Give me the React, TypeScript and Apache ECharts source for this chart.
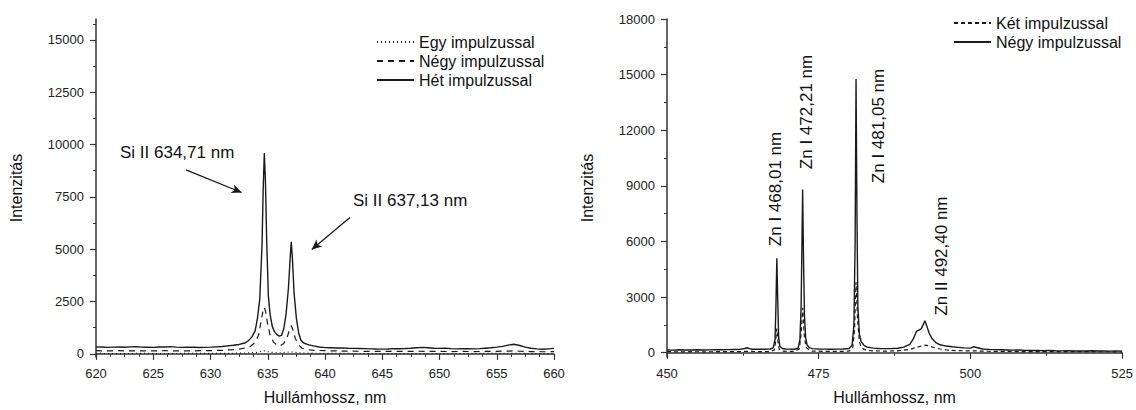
import React, { useEffect, useRef } from "react";
import * as echarts from "echarts";

// ---------- Left chart (Si II lines) ----------
const leftNames = ["Egy impulzussal", "Négy impulzussal", "Hét impulzussal"];
const leftYTicks = [0, 2500, 5000, 7500, 10000, 12500, 15000];
const leftYMinor = [1250, 3750, 6250, 8750, 11250, 13750, 15750];

const leftEgy: [number, number][] = [
  [620, 20], [622, 15], [624, 20], [626, 15], [628, 20], [630, 20], [632, 30], [633, 40],
  [634, 70], [634.7, 150], [635.3, 70], [636, 50], [637.05, 90], [637.7, 50], [639, 30],
  [641, 20], [645, 15], [650, 15], [655, 20], [656.5, 30], [658, 15], [660, 15],
];

const leftNegy: [number, number][] = [
  [620, 150], [621, 145], [622, 150], [623, 140], [624, 145], [625, 140], [626, 150],
  [627, 145], [628, 140], [629, 150], [630, 155], [631, 170], [632, 200], [632.5, 230],
  [633, 280], [633.5, 360], [633.9, 550], [634.2, 900], [634.4, 1500], [634.6, 2100],
  [634.7, 2220], [634.8, 2050], [635.0, 1400], [635.2, 900], [635.5, 560], [635.8, 420],
  [636.1, 390], [636.4, 500], [636.7, 800], [636.9, 1150], [637.05, 1340], [637.2, 1150],
  [637.4, 750], [637.7, 420], [638, 270], [638.5, 200], [639, 170], [640, 150], [641, 140],
  [642, 130], [643, 125], [644, 120], [645, 115], [646, 120], [647, 115], [648, 125],
  [649, 120], [650, 115], [651, 110], [652, 115], [653, 110], [654, 115], [655, 120],
  [656, 135], [656.5, 140], [657, 125], [658, 110], [659, 100], [660, 105],
];

const leftHet: [number, number][] = [
  [620, 320], [620.5, 330], [621, 310], [621.5, 320], [622, 330], [622.5, 315], [623, 335],
  [623.5, 340], [624, 320], [624.5, 315], [625, 310], [625.5, 325], [626, 330], [626.5, 345],
  [627, 320], [627.5, 310], [628, 320], [628.5, 315], [629, 305], [629.5, 310], [630, 320],
  [630.5, 335], [631, 350], [631.5, 380], [632, 410], [632.5, 450], [633, 520], [633.3, 620],
  [633.6, 800], [633.9, 1100], [634.1, 1700], [634.3, 2600], [634.5, 5200], [634.6, 7800],
  [634.7, 9600], [634.8, 8200], [634.9, 5600], [635.05, 2800], [635.2, 1900], [635.4, 1300],
  [635.6, 1050], [635.8, 920], [636.0, 850], [636.2, 880], [636.4, 1200], [636.6, 1900],
  [636.8, 3100], [636.95, 4500], [637.05, 5350], [637.15, 4600], [637.3, 2900], [637.5, 1700],
  [637.7, 1000], [637.9, 650], [638.2, 500], [638.6, 430], [639, 380], [639.5, 330],
  [640, 300], [640.5, 290], [641, 280], [641.5, 285], [642, 270], [642.5, 260], [643, 255],
  [643.5, 250], [644, 240], [644.5, 230], [645, 225], [645.5, 230], [646, 250], [646.5, 245],
  [647, 255], [647.5, 270], [648, 290], [648.5, 310], [649, 290], [649.5, 270], [650, 260],
  [650.5, 270], [651, 250], [651.5, 240], [652, 250], [652.5, 245], [653, 240], [653.5, 250],
  [654, 270], [654.5, 290], [655, 320], [655.5, 360], [656, 420], [656.5, 460], [657, 400],
  [657.5, 320], [658, 270], [658.5, 240], [659, 220], [659.5, 240], [660, 260],
];

const leftLabels = ["Si II 634,71 nm", "Si II 637,13 nm"];
const leftArrows: [[number, number], [number, number]][] = [
  [[627.86, 8790], [632.72, 7710]],
  [[642.18, 6510], [638.84, 4990]],
];

// ---------- Right chart (Zn lines) ----------
const rightNames = ["Két impulzussal", "Négy impulzussal"];
const rightYTicks = [0, 3000, 6000, 9000, 12000, 15000, 18000];
const rightYMinor = [1500, 4500, 7500, 10500, 13500, 16500];

const rightKet: [number, number][] = [
  [450, 60], [452, 50], [454, 55], [456, 50], [458, 55], [460, 60], [462, 55], [463.2, 80],
  [465, 60], [467, 65], [467.7, 150], [467.9, 600], [468.1, 1300], [468.3, 600], [468.5, 180],
  [469, 90], [470, 70], [471, 70], [471.8, 200], [472.1, 1000], [472.35, 2420], [472.6, 1000],
  [472.9, 300], [473.5, 120], [474, 90], [476, 75], [478, 70], [480, 85], [480.6, 250],
  [480.9, 1200], [481.15, 3800], [481.4, 1800], [481.7, 600], [482, 300], [482.5, 180],
  [483, 130], [484, 100], [486, 90], [488, 100], [490, 180], [491, 280], [492, 370],
  [492.5, 410], [493, 380], [494, 280], [495, 200], [496, 150], [498, 110], [500, 100],
  [501, 95], [503, 80], [505, 70], [508, 65], [510, 60], [515, 55], [520, 55], [525, 50],
];

const rightNegy: [number, number][] = [
  [450, 150], [451, 140], [452, 160], [453, 150], [454, 145], [455, 160], [456, 150],
  [457, 155], [458, 165], [459, 160], [460, 170], [461, 175], [462, 180], [462.8, 230],
  [463.2, 270], [463.6, 220], [464, 190], [465, 185], [466, 190], [467, 200], [467.5, 260],
  [467.8, 700], [467.95, 2500], [468.1, 5100], [468.25, 2800], [468.4, 800], [468.6, 350],
  [469, 230], [469.5, 200], [470, 195], [471, 190], [471.6, 240], [471.9, 700], [472.1, 2500],
  [472.25, 6200], [472.35, 8800], [472.5, 5000], [472.65, 2000], [472.85, 800], [473.1, 400],
  [473.5, 260], [474, 220], [475, 200], [476, 195], [477, 190], [478, 195], [479, 200],
  [480, 230], [480.5, 400], [480.8, 1500], [481.0, 6000], [481.15, 14770], [481.3, 7500],
  [481.45, 2500], [481.7, 1000], [482, 600], [482.5, 380], [483, 300], [484, 250], [485, 230],
  [486, 220], [487, 225], [488, 240], [489, 300], [490, 450], [490.6, 750], [491.1, 1150],
  [491.5, 1220], [491.9, 1300], [492.2, 1500], [492.5, 1720], [492.8, 1450], [493.2, 1050],
  [493.7, 750], [494.3, 550], [495, 430], [496, 360], [497, 320], [498, 290], [499, 260],
  [500, 250], [500.5, 320], [501, 280], [502, 200], [503, 180], [504, 170], [505, 160],
  [506, 150], [507, 140], [508, 150], [509, 130], [510, 120], [511, 125], [512, 110],
  [513, 130], [514, 110], [515, 100], [516, 110], [517, 95], [518, 100], [519, 90],
  [520, 105], [521, 90], [522, 95], [523, 85], [524, 90], [525, 85],
];

const rightLabels = ["Zn I 468,01 nm", "Zn I 472,21 nm", "Zn I 481,05 nm", "Zn II 492,40 nm"];

const FONT = "'Liberation Sans', Arial, sans-serif";
const INK = "#1a1a1a";

export default function App() {
  const ref = useRef<HTMLDivElement>(null);

  useEffect(() => {
    if (!ref.current) return;
    const chart = echarts.init(ref.current, undefined, { renderer: "svg" });

    const axisLine = { show: true, lineStyle: { color: "#333", width: 1.5 } };
    const labelStyle = { color: "#222", fontSize: 13, fontFamily: FONT, formatter: (v: number) => String(v) };
    const nameStyle = { color: "#111", fontSize: 16, fontFamily: FONT };

    const xAxisBase = (gridIndex: number, min: number, max: number, interval: number, minorSplit: number) => ({
      type: "value",
      gridIndex,
      min,
      max,
      interval,
      name: "Hullámhossz, nm",
      nameLocation: "middle",
      nameGap: 32,
      nameTextStyle: nameStyle,
      axisLine,
      axisTick: { show: true, length: 6, lineStyle: { color: "#333", width: 1.2 } },
      minorTick: { show: true, splitNumber: minorSplit, length: 3, lineStyle: { color: "#333", width: 1 } },
      axisLabel: { ...labelStyle, margin: 10 },
      splitLine: { show: false },
      minorSplitLine: { show: false },
    });

    const yAxisMain = (gridIndex: number, min: number, max: number, ticks: number[]) => ({
      type: "value",
      gridIndex,
      position: "left",
      min,
      max,
      name: "Intenzitás",
      nameLocation: "middle",
      nameGap: 72,
      nameTextStyle: nameStyle,
      axisLine,
      axisTick: { show: true, length: 6, customValues: ticks, lineStyle: { color: "#333", width: 1.2 } },
      axisLabel: { ...labelStyle, margin: 12, customValues: ticks },
      splitLine: { show: false },
    });

    const yAxisMinor = (gridIndex: number, min: number, max: number, ticks: number[]) => ({
      type: "value",
      gridIndex,
      position: "left",
      min,
      max,
      axisLine: { show: false },
      axisTick: { show: true, length: 3, customValues: ticks, lineStyle: { color: "#333", width: 1 } },
      axisLabel: { show: false },
      splitLine: { show: false },
    });

    const lineSeries = (
      name: string,
      data: [number, number][],
      xi: number,
      yi: number,
      type: any,
      width = 1.3
    ) => ({
      type: "line",
      name,
      xAxisIndex: xi,
      yAxisIndex: yi,
      data,
      showSymbol: false,
      symbol: "none",
      lineStyle: { color: INK, width, type },
      itemStyle: { color: INK },
      z: 3,
    });

    const displayName: Record<string, string> = {
      l_egy: leftNames[0],
      l_negy: leftNames[1],
      l_het: leftNames[2],
      r_ket: rightNames[0],
      r_negy: rightNames[1],
    };

    const hetSeries: any = lineSeries("l_het", leftHet, 0, 0, "solid", 1.4);
    hetSeries.markLine = {
      silent: true,
      symbol: ["none", "arrow"],
      symbolSize: [7, 10],
      label: { show: false },
      lineStyle: { color: INK, width: 1.3, type: "solid" },
      data: leftArrows.map(([a, b]) => [{ coord: a }, { coord: b }]),
    };

    const txt = (text: string, x: number, y: number, rot = 0) => ({
      type: "text",
      x,
      y,
      rotation: rot,
      style: {
        text,
        fill: "#111",
        font: `17px ${FONT}`,
        align: rot ? "center" : "left",
        verticalAlign: "middle",
      },
    });

    const legendBase = {
      orient: "vertical",
      padding: 0,
      itemWidth: 37,
      itemHeight: 14,
      itemGap: 3,
      formatter: (n: string) => displayName[n],
      textStyle: { color: "#111", fontSize: 16, fontFamily: FONT },
      itemStyle: { color: "transparent", borderWidth: 0, opacity: 0 },
      selectedMode: false,
    };

    chart.setOption({
      animation: false,
      backgroundColor: "#fff",
      grid: [
        { left: 96, top: 19, width: 458, height: 339 },
        { left: 667, top: 19, width: 456, height: 339 },
      ],
      xAxis: [xAxisBase(0, 620, 660, 5, 4), xAxisBase(1, 450, 525, 25, 2)],
      yAxis: [
        yAxisMain(0, -150, 16000, leftYTicks),
        yAxisMinor(0, -150, 16000, leftYMinor),
        yAxisMain(1, -230, 18000, rightYTicks),
        yAxisMinor(1, -230, 18000, rightYMinor),
      ],
      legend: [
        { ...legendBase, data: ["l_egy", "l_negy", "l_het"], left: 376, top: 34 },
        { ...legendBase, data: ["r_ket", "r_negy"], left: 953, top: 15 },
      ],
      series: [
        lineSeries("l_egy", leftEgy, 0, 0, [1, 3], 1.2),
        lineSeries("l_negy", leftNegy, 0, 0, [6, 5], 1.2),
        hetSeries,
        lineSeries("r_ket", rightKet, 1, 2, [4, 3], 1.2),
        lineSeries("r_negy", rightNegy, 1, 2, "solid", 1.4),
      ],
      graphic: [
        txt(leftLabels[0], 120, 152),
        txt(leftLabels[1], 353, 200),
        txt(rightLabels[0], 775, 189, Math.PI / 2),
        txt(rightLabels[1], 806.7, 112, Math.PI / 2),
        txt(rightLabels[2], 878.3, 126, Math.PI / 2),
        txt(rightLabels[3], 941.7, 256, Math.PI / 2),
      ],
    });

    return () => chart.dispose();
  }, []);

  return (
    <div
      ref={ref}
      style={{ position: "fixed", left: 0, top: 0, width: 1136, height: 410, background: "#fff" }}
    />
  );
}
